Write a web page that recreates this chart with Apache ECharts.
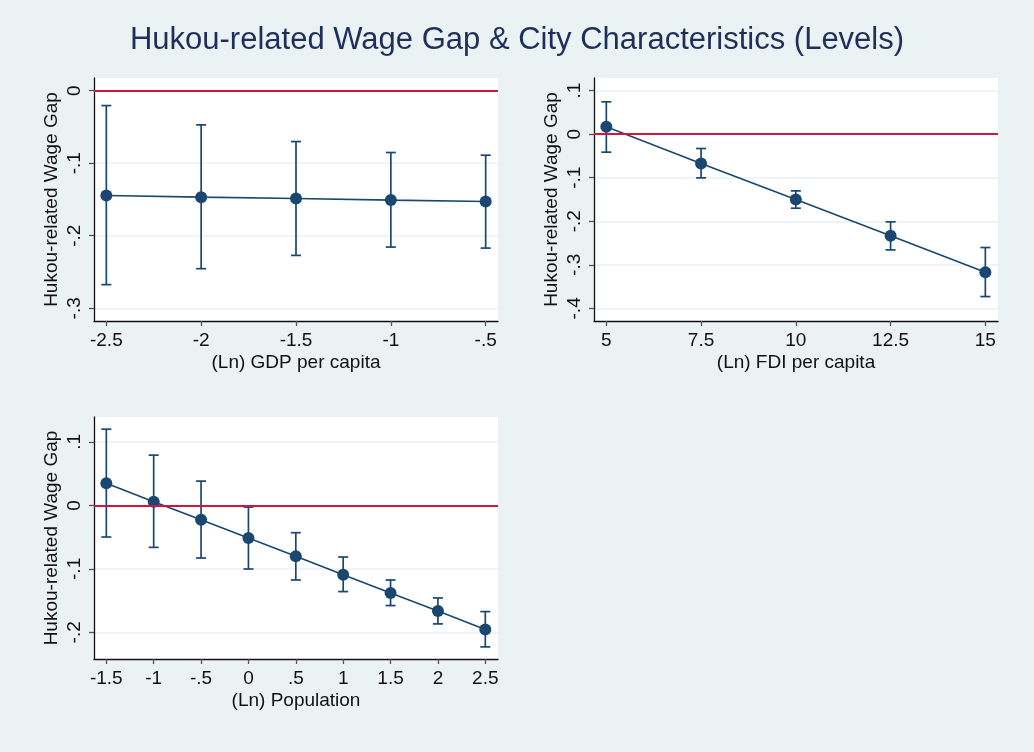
<!DOCTYPE html>
<html>
<head>
<meta charset="utf-8">
<script src="https://cdn.jsdelivr.net/npm/echarts@6/dist/echarts.min.js"></script>
<style>
html,body{margin:0;padding:0;background:#EAF2F3;}
#chart{width:1034px;height:752px;}
</style>
</head>
<body>
<div id="chart"></div>
<script>
// ---- Data ----
const gdpX  = [-2.5, -2, -1.5, -1, -0.5];
const gdpY  = [-0.1445, -0.1468, -0.1486, -0.1509, -0.1528];
const gdpLo = [-0.2674, -0.2454, -0.2271, -0.2156, -0.2170];
const gdpHi = [-0.0206, -0.0472, -0.0702, -0.0853, -0.0890];

const fdiX  = [5, 7.5, 10, 12.5, 15];
const fdiY  = [0.0168, -0.0674, -0.1501, -0.2335, -0.3170];
const fdiLo = [-0.0413, -0.1003, -0.1700, -0.2657, -0.3729];
const fdiHi = [0.0743, -0.0329, -0.1302, -0.2014, -0.2603];

const popX  = [-1.5, -1, -0.5, 0, 0.5, 1, 1.5, 2, 2.5];
const popY  = [0.0351, 0.0058, -0.0225, -0.0514, -0.0802, -0.1091, -0.1379, -0.1662, -0.1956];
const popLo = [-0.0498, -0.0661, -0.0829, -0.1002, -0.1175, -0.1358, -0.1578, -0.1867, -0.2229];
const popHi = [0.1201, 0.0792, 0.0383, -0.0026, -0.0430, -0.0813, -0.1175, -0.1458, -0.1673];

// ---- Tick labels ----
const gdpXTicks = [-2.5, -2, -1.5, -1, -0.5];
const gdpYTicks = [-0.3, -0.2, -0.1, 0];
const fdiXTicks = [5, 7.5, 10, 12.5, 15];
const fdiYTicks = [-0.4, -0.3, -0.2, -0.1, 0, 0.1];
const popXTicks = [-1.5, -1, -0.5, 0, 0.5, 1, 1.5, 2, 2.5];
const popYTicks = [-0.2, -0.1, 0, 0.1];

const titleText = 'Hukou-related Wage Gap & City Characteristics (Levels)';
const yName = 'Hukou-related Wage Gap';
const xNames = ['(Ln) GDP per capita', '(Ln) FDI per capita', '(Ln) Population'];

// ---- Style ----
const NAVY = '#1A476F';
const RED = '#D0163F';
const FONT = '"Liberation Sans", Arial, Helvetica, sans-serif';

function fmt(v) {
  let s = String(Math.round(v * 1000) / 1000);
  return s.replace(/^(-?)0\./, '$1.');
}

const panels = [
  {x: gdpX, y: gdpY, lo: gdpLo, hi: gdpHi, xt: gdpXTicks, yt: gdpYTicks,
   grid: {left: 94, top: 78, width: 404, height: 243},
   xr: [-2.565, -0.435], yr: [-0.3175, 0.0174]},
  {x: fdiX, y: fdiY, lo: fdiLo, hi: fdiHi, xt: fdiXTicks, yt: fdiYTicks,
   grid: {left: 594, top: 78, width: 404, height: 243},
   xr: [4.675, 15.334], yr: [-0.429, 0.129]},
  {x: popX, y: popY, lo: popLo, hi: popHi, xt: popXTicks, yt: popYTicks,
   grid: {left: 94, top: 417, width: 404, height: 242},
   xr: [-1.630, 2.634], yr: [-0.242, 0.1393]}
];

const grids = [], xAxes = [], yAxes = [], series = [];
panels.forEach((p, i) => {
  grids.push(Object.assign({show: true, backgroundColor: '#ffffff', borderWidth: 0}, p.grid));
  xAxes.push({
    type: 'value', gridIndex: i, min: p.xr[0], max: p.xr[1],
    name: xNames[i], nameLocation: 'middle', nameGap: 32,
    nameTextStyle: {fontFamily: FONT, fontSize: 19, color: '#111'},
    axisLine: {show: true, onZero: false, lineStyle: {color: '#111', width: 1.3}},
    axisTick: {show: true, inside: false, length: 5, lineStyle: {color: '#555', width: 1.3}, customValues: p.xt},
    axisLabel: {show: true, margin: 10, fontFamily: FONT, fontSize: 19, color: '#111', customValues: p.xt, formatter: fmt},
    splitLine: {show: false}
  });
  yAxes.push({
    type: 'value', gridIndex: i, min: p.yr[0], max: p.yr[1],
    name: yName, nameLocation: 'middle', nameGap: 33,
    nameTextStyle: {fontFamily: FONT, fontSize: 19, color: '#111'},
    axisLine: {show: true, onZero: false, lineStyle: {color: '#111', width: 1.3}},
    axisTick: {show: true, inside: false, length: 5, lineStyle: {color: '#555', width: 1.3}, customValues: p.yt},
    axisLabel: {show: true, rotate: 90, margin: 10, fontFamily: FONT, fontSize: 19, color: '#111', customValues: p.yt, formatter: fmt},
    splitLine: {show: true, lineStyle: {color: '#EAF2F3', width: 1.5}}
  });
  // zero reference line
  series.push({
    type: 'line', xAxisIndex: i, yAxisIndex: i, data: [], z: 1, silent: true,
    markLine: {silent: true, symbol: 'none', label: {show: false},
      lineStyle: {color: RED, width: 1.8, type: 'solid'},
      data: [{yAxis: 0}]}
  });
  // error bars
  series.push({
    type: 'custom', xAxisIndex: i, yAxisIndex: i, z: 2, silent: true,
    data: p.x.map((xv, k) => [xv, p.lo[k], p.hi[k]]),
    renderItem: function (params, api) {
      const a = api.coord([api.value(0), api.value(1)]);
      const b = api.coord([api.value(0), api.value(2)]);
      const w = 5;
      const st = {stroke: NAVY, lineWidth: 1.7};
      return {type: 'group', children: [
        {type: 'line', shape: {x1: a[0], y1: a[1], x2: b[0], y2: b[1]}, style: st},
        {type: 'line', shape: {x1: a[0] - w, y1: a[1], x2: a[0] + w, y2: a[1]}, style: st},
        {type: 'line', shape: {x1: b[0] - w, y1: b[1], x2: b[0] + w, y2: b[1]}, style: st}
      ]};
    }
  });
  // point estimates
  series.push({
    type: 'line', xAxisIndex: i, yAxisIndex: i, z: 3, silent: true,
    data: p.x.map((xv, k) => [xv, p.y[k]]),
    symbol: 'circle', symbolSize: 12,
    itemStyle: {color: NAVY},
    lineStyle: {color: NAVY, width: 1.6},
    animation: false
  });
});

const chart = echarts.init(document.getElementById('chart'));
chart.setOption({
  backgroundColor: '#EAF2F3',
  animation: false,
  title: {text: titleText, left: 'center', top: 20,
    textStyle: {fontFamily: FONT, fontSize: 31, fontWeight: 'normal', color: '#1E2F5A'}},
  grid: grids, xAxis: xAxes, yAxis: yAxes, series: series
});
</script>
</body>
</html>
